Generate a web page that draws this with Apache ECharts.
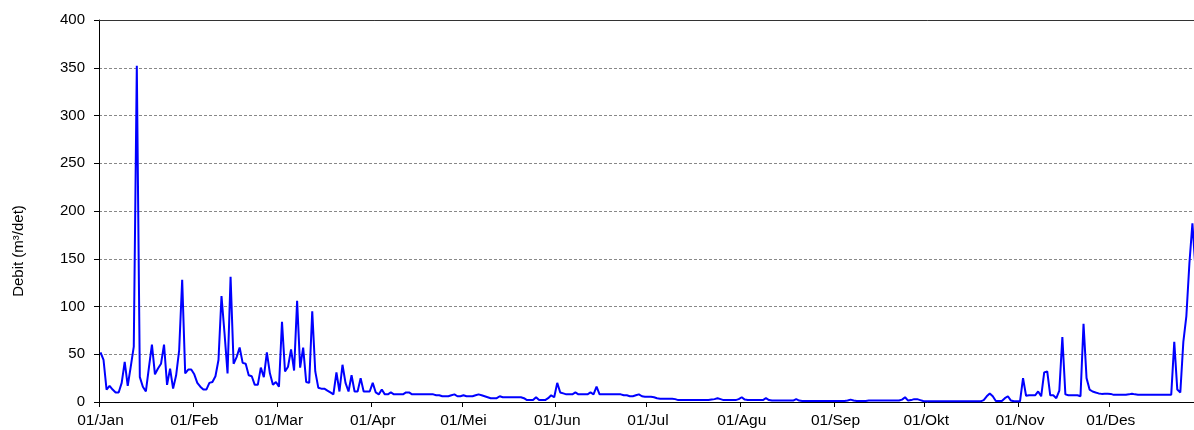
<!DOCTYPE html>
<html>
<head>
<meta charset="utf-8">
<script src="https://cdn.jsdelivr.net/npm/echarts@6/dist/echarts.min.js"></script>
<style>
html,body{margin:0;padding:0;background:#fff;overflow:hidden;width:1194px;height:430px;}
#chart{width:1203px;height:430px;}
</style>
</head>
<body>
<div id="chart"></div>
<script>
// Month names (Indonesian) and days per month
const monthNames = ['Jan','Feb','Mar','Apr','Mei','Jun','Jul','Agu','Sep','Okt','Nov','Des'];
const monthDays = [31,28,31,30,31,30,31,31,30,31,30,31];
const yTicks = [0,50,100,150,200,250,300,350,400];

// Daily discharge (m3/det)
const janValues = [52,44,13,17,13,10,10,20,42,17,37,58,352,26,16,11,36,60,29,35,40,60,18,35,14,28,54,128,30,34,34];
const febValues = [29,20,16,13,13,20,21,27,44,111,72,30,131,40,47,57,41,40,28,27,18,18,36,26,52,30,18,21];
const marValues = [16,84,32,37,55,33,106,36,57,21,20,95,32,15,14,14,12,10,8,31,11,39,20,11,28,11,11,25,11,11,11];
const aprValues = [20,10,8,13,8,8,10,8,8,8,8,10,10,8,8,8,8,8,8,8,8,7,7,6,6,6,7,8,6,6];
const meiValues = [7,6,6,6,7,8,7,6,5,4,4,4,6,5,5,5,5,5,5,5,4,2,2,2,5,2,2,2,4,7,5];
const junValues = [20,10,9,8,8,8,10,8,8,8,8,10,8,16,8,8,8,8,8,8,8,8,7,7,6,6,7,8,6,5.5];
const julValues = [5.5,5.5,5,4,3.5,3.5,3.5,3.5,3.5,3,2,2,2,2,2,2,2,2,2,2,2,2.5,3,4,3,2,2,2,2,2,3];
const aguValues = [5,2.5,2,2,2,2,2,2,4,2,1.5,1.5,1.5,1.5,1.5,1.5,1.5,1.5,3,1.5,1,1,1,1,1,1,1,1,1,1,1];
const sepValues = [1,1,1,1,1.5,2.5,1.5,1,1,1,1,1.5,1.5,1.5,1.5,1.5,1.5,1.5,1.5,1.5,1.5,1.5,2.5,5,1.5,2,3,3,2,1];
const oktValues = [0.7,0.7,0.7,0.7,0.7,0.7,0.7,0.7,0.7,0.7,0.7,0.7,0.7,0.7,0.7,0.7,0.7,0.7,0.7,2,6,9,6,1,1,1,4,6,1.5,0.7,0.7];
const novValues = [0.7,25,6.5,7,7,7,11,6,31,32,7,7,4,12,68,8,7,7,7,7,6,82,25,13,11,10,9,8.5,8.7,8.7];
const desValues = [8.5,7.5,7.5,7.5,7.5,7.5,8,8.7,8,7.7,7.7,7.7,7.7,7.7,7.7,7.7,7.7,7.7,7.7,7.7,7.7,63,13,10,63,90,145,187,140,null,null];

const categories = [];
monthNames.forEach((m, i) => {
  for (let d = 1; d <= monthDays[i]; d++) {
    categories.push((d < 10 ? '0' + d : '' + d) + '/' + m);
  }
});
const values = [].concat(janValues, febValues, marValues, aprValues, meiValues, junValues,
  julValues, aguValues, sepValues, oktValues, novValues, desValues);

const FONT = '"Liberation Sans", Arial, sans-serif';
const isMonthStart = (idx, val) => categories[idx].startsWith('01/');

const chart = echarts.init(document.getElementById('chart'), null, {renderer: 'canvas'});
chart.setOption({
  animation: false,
  backgroundColor: '#ffffff',
  grid: {left: 99, right: 0, top: 20, bottom: 28, containLabel: false},
  xAxis: [{
    type: 'category',
    data: categories,
    boundaryGap: true,
    axisLine: {show: true, lineStyle: {color: '#000', width: 1}},
    axisTick: {show: true, interval: isMonthStart, length: 5, inside: false, lineStyle: {color: '#000'}},
    axisLabel: {interval: isMonthStart, color: '#000', fontFamily: FONT, fontSize: 15.5, margin: 11},
    splitLine: {show: false}
  }, {
    type: 'category',
    data: categories,
    position: 'top',
    boundaryGap: true,
    axisLine: {show: true, lineStyle: {color: '#333', width: 1}},
    axisTick: {show: false},
    axisLabel: {show: false},
    splitLine: {show: false}
  }],
  yAxis: {
    type: 'value',
    min: yTicks[0],
    max: yTicks[yTicks.length - 1],
    interval: yTicks[1] - yTicks[0],
    axisLine: {show: true, lineStyle: {color: '#000', width: 1}},
    axisTick: {show: true, length: 5, inside: false, lineStyle: {color: '#000'}},
    axisLabel: {color: '#000', fontFamily: FONT, fontSize: 15, margin: 14},
    splitLine: {show: true, lineStyle: {color: '#888', width: 1, type: [3, 2]}}
  },
  graphic: [{
    type: 'text',
    x: 19,
    y: 251,
    rotation: Math.PI / 2,
    style: {
      text: 'Debit (m³/det)',
      fill: '#000',
      font: '15px ' + FONT,
      align: 'center',
      verticalAlign: 'middle'
    }
  }],
  series: [{
    type: 'line',
    data: values,
    xAxisIndex: 0,
    showSymbol: false,
    symbol: 'none',
    lineStyle: {color: '#0000ff', width: 2},
    itemStyle: {color: '#0000ff'},
    z: 5
  }]
});
</script>
</body>
</html>
